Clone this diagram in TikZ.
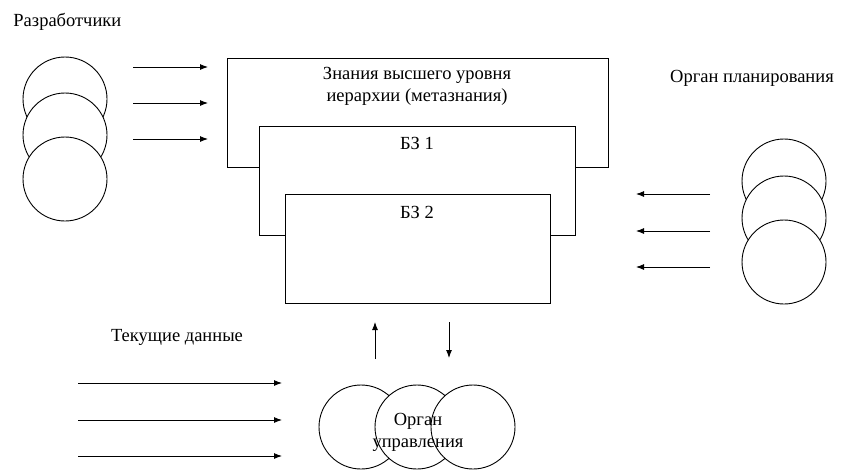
\documentclass[tikz,border=0pt]{standalone}
\usepackage{fontspec}
\setmainfont{Liberation Serif}
\usetikzlibrary{arrows.meta}

\begin{document}
\begin{tikzpicture}[x=1pt,y=-1pt,>={Latex[length=8pt,width=6pt]},line width=0.9pt,font=\fontsize{18.5}{22}\selectfont]
\tikzstyle{c}=[draw,circle,fill=white,minimum size=84pt,inner sep=0pt]
\tikzstyle{kb}=[draw,fill=white,minimum height=109pt]
\tikzstyle{t}=[align=center,inner sep=0pt]
\useasboundingbox (0,0) rectangle (842,472);
% developers
\node[t,anchor=west] (dev) at (13,22) {Разработчики};
\node[c] (d1) at (65,99) {}; \node[c] (d2) at (65,135) {}; \node[c] (d3) at (65,179) {};
\foreach \y [count=\i] in {67,103,139} {
  \coordinate (ds\i) at (133,\y); \coordinate (de\i) at (208,\y);
  \draw[->] (ds\i) -- (de\i);
}
% knowledge bases
\node[kb,minimum width=381pt] (meta) at (417.5,112.5) {};
\node[t] (metat) at (417,86) {Знания высшего уровня\\иерархии (метазнания)};
\node[kb,minimum width=316pt] (bz1) at (417,180.5) {};
\node[t] (bz1t) at (417,143) {БЗ 1};
\node[kb,minimum width=265pt] (bz2) at (417.5,248.5) {};
\node[t] (bz2t) at (417,212) {БЗ 2};
% planning
\node[t] (plan) at (752,78) {Орган планирования};
\node[c] (p1) at (784,181) {}; \node[c] (p2) at (784,218) {}; \node[c] (p3) at (784,262) {};
\foreach \y [count=\i] in {194,231,267} {
  \coordinate (ps\i) at (710,\y); \coordinate (pe\i) at (636,\y);
  \draw[->] (ps\i) -- (pe\i);
}
% current data
\node[t] (cur) at (177,337) {Текущие данные};
\foreach \y [count=\i] in {383,420,456} {
  \coordinate (cs\i) at (78,\y); \coordinate (ce\i) at (282,\y);
  \draw[->] (cs\i) -- (ce\i);
}
% control
\node[c] (u1) at (361,427) {}; \node[c] (u2) at (417,427) {}; \node[c] (u3) at (473,427) {};
\node[t] (ctl) at (418,432) {Орган\\управления};
\coordinate (us) at (375,359); \coordinate (ue) at (375,322);
\coordinate (ds) at (449,322); \coordinate (de) at (449,358);
\draw[->] (us) -- (ue);
\draw[->] (ds) -- (de);
\end{tikzpicture}
\end{document}
